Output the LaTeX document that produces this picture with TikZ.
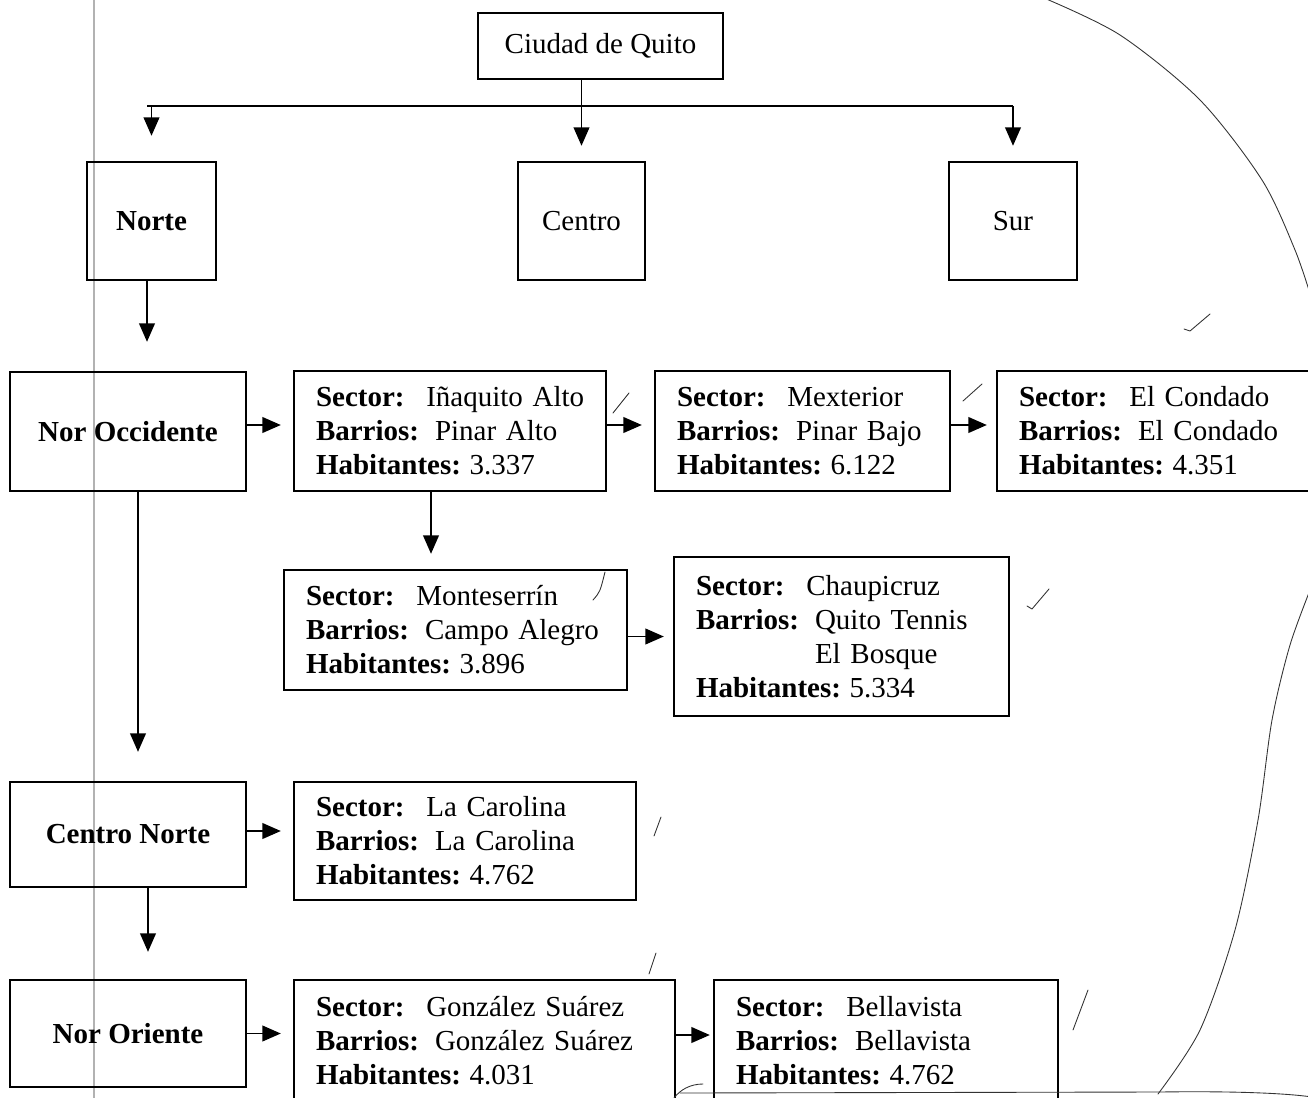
\documentclass[tikz,border=0pt]{standalone}
\usepackage{fontspec}
\setmainfont{Liberation Serif}
\usetikzlibrary{arrows.meta}
\newcommand{\ficha}[3]{\mbox{\textbf{Sector:}\hspace{0.75em}#1}\\
  \mbox{\textbf{Barrios:}\hspace{0.55em}#2}\\
  \mbox{\textbf{Habitantes:}\hspace{0.3em}#3}}
\tikzset{
  caja/.style={draw, line width=1.4pt, inner sep=0pt, font=\fontsize{16.5}{19.4}\selectfont},
  sector/.style={caja, align=left, inner xsep=0.44cm, text width=#1},
  flecha/.style={-{Triangle[length=10.5pt,width=9pt]}, line width=0.8pt},
  pluma/.style={line width=0.5pt, black!80, line cap=round, line join=round}
}
\begin{document}
\begin{tikzpicture}[line width=0.8pt, x=0.02cm, y=-0.02cm]
  \useasboundingbox (0,0) rectangle (1308,1098);
  \draw[gray!60, line width=1.2pt] (94,0) -- (94,1098);
  \node[caja, minimum width=4.9cm, minimum height=1.32cm] (quito) at (600.5,46) {Ciudad de Quito};
  \node[caja, minimum width=2.58cm, minimum height=2.36cm] (norte) at (151.5,221) {\textbf{Norte}};
  \node[caja, minimum width=2.54cm, minimum height=2.36cm] (centro) at (581.5,221) {Centro};
  \node[caja, minimum width=2.56cm, minimum height=2.36cm] (sur) at (1013,221) {Sur};
  \node[caja, minimum width=4.72cm, minimum height=2.38cm] (noroc) at (128,431.5) {\textbf{Nor Occidente}};
  \node[sector=5.36cm, minimum height=2.4cm] (inaquito) at (450,431) {\ficha{Iñaquito Alto}{Pinar Alto}{3.337}};
  \node[sector=5.02cm, minimum height=2.4cm] (mexterior) at (802.5,431) {\ficha{Mexterior}{Pinar Bajo}{6.122}};
  \node[sector=5.42cm, minimum height=2.4cm] (condado) at (1154.5,431) {\ficha{El Condado}{El Condado}{4.351}};
  \node[sector=5.98cm, minimum height=2.4cm] (monte) at (455.5,630) {\ficha{Monteserrín}{Campo Alegro}{3.896}};
  \node[sector=5.82cm, minimum height=3.18cm] (chaupi) at (841.5,636.5)
    {\mbox{\textbf{Sector:}\hspace{0.75em}Chaupicruz}\\
     \mbox{\textbf{Barrios:}\hspace{0.55em}Quito Tennis}\\
     \mbox{\phantom{\textbf{Barrios:}}\hspace{0.55em}El Bosque}\\
     \mbox{\textbf{Habitantes:}\hspace{0.3em}5.334}};
  \node[caja, minimum width=4.72cm, minimum height=2.1cm] (cnorte) at (128,834.5) {\textbf{Centro Norte}};
  \node[sector=5.96cm, minimum height=2.36cm] (carolina) at (465,841) {\ficha{La Carolina}{La Carolina}{4.762}};
  \node[caja, minimum width=4.72cm, minimum height=2.14cm] (noror) at (128,1033.5) {\textbf{Nor Oriente}};
  \node[sector=6.74cm, minimum height=2.44cm] (gonzalez) at (484.5,1041) {\ficha{González Suárez}{González Suárez}{4.031}};
  \node[sector=6.0cm, minimum height=2.44cm] (bella) at (886,1041) {\ficha{Bellavista}{Bellavista}{4.762}};

  \coordinate (barra) at (0,106);
  \draw (centro.north |- quito.south) -- (centro.north |- barra);
  \draw ([xshift=-0.09cm]norte.north |- barra) -- (sur.north |- barra);
  \draw[flecha, shorten >=0.5cm] (norte.north |- barra) -- (norte.north);
  \draw[flecha, shorten >=0.3cm] (centro.north |- barra) -- (centro.north);
  \draw[flecha, shorten >=0.3cm] (sur.north |- barra) -- (sur.north);
  \draw[flecha, shorten >=0.58cm] ([xshift=-0.09cm]norte.south) -- ([xshift=-0.09cm]norte.south |- noroc.north);
  \draw[flecha, shorten >=0.58cm] ([xshift=0.2cm]noroc.south) -- ([xshift=0.2cm]noroc.south |- cnorte.north);
  \draw[flecha, shorten >=0.54cm] ([xshift=0.4cm]cnorte.south) -- ([xshift=0.4cm]cnorte.south |- noror.north);
  \draw[flecha, shorten >=0.24cm] ([yshift=0.13cm]noroc.east) -- ([yshift=0.13cm]noroc.east -| inaquito.west);
  \draw[flecha, shorten >=0.24cm] ([yshift=0.12cm]inaquito.east) -- ([yshift=0.12cm]inaquito.east -| mexterior.west);
  \draw[flecha, shorten >=0.18cm] ([yshift=0.12cm]mexterior.east) -- ([yshift=0.12cm]mexterior.east -| condado.west);
  \draw[flecha, shorten >=0.3cm] ([xshift=-0.38cm]inaquito.south) -- ([xshift=-0.38cm]inaquito.south |- monte.north);
  \draw[flecha, shorten >=0.18cm] (monte.east |- chaupi.west) -- (chaupi.west);
  \draw[flecha, shorten >=0.24cm] ([yshift=0.07cm]cnorte.east) -- ([yshift=0.07cm]cnorte.east -| carolina.west);
  \draw[flecha, shorten >=0.24cm] (noror.east) -- (noror.east -| gonzalez.west);
  \draw[flecha, shorten >=0.06cm] ([yshift=0.12cm]gonzalez.east) -- ([yshift=0.12cm]gonzalez.east -| bella.west);

  \draw[pluma] plot[smooth] coordinates {(1044,-2) (1120,35) (1200,100) (1262,180) (1295,250) (1312,300)};
  \draw[pluma] plot[smooth] coordinates {(1312,585) (1290,645) (1272,720) (1258,820) (1235,930) (1200,1030) (1158,1094)};
  \draw[pluma] (680,1093) -- (1160,1092) .. controls (1230,1091) and (1285,1093) .. (1312,1097);
  \draw[pluma] (674,1098) .. controls (680,1090) and (690,1084) .. (703,1084);
  \draw[pluma] (613,413) -- (629,393);
  \draw[pluma] (963,401) -- (982,384);
  \draw[pluma] (1184,329) -- (1190,331) -- (1210,314);
  \draw[pluma] (593,600) .. controls (600,592) .. (605,572);
  \draw[pluma] (1027,606) -- (1032,609) -- (1049,589);
  \draw[pluma] (654,836) -- (661,817);
  \draw[pluma] (649,974) -- (656,953);
  \draw[pluma] (1073,1030) -- (1088,990);
\end{tikzpicture}
\end{document}
